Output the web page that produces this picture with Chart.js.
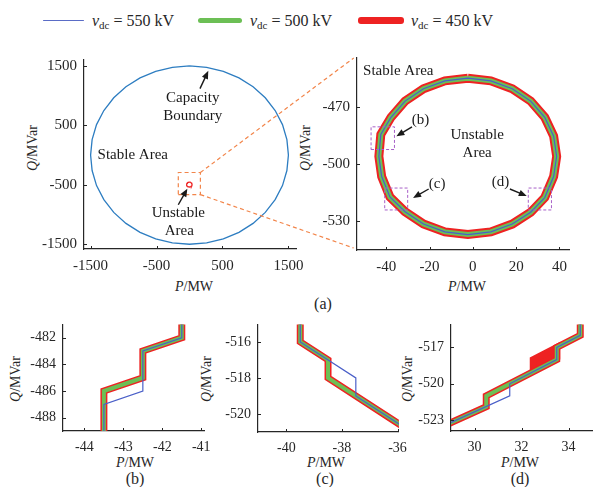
<!DOCTYPE html>
<html>
<head>
<meta charset="utf-8">
<script src="https://cdn.jsdelivr.net/npm/chart.js@4.4.0/dist/chart.umd.min.js"></script>
<style>
  body { margin: 0; background: #fff; }
  #page { position: relative; width: 602px; height: 487px; overflow: hidden; font-family: 'Liberation Serif', 'Times New Roman', serif; color: #262626; }
  #page canvas { position: absolute; }
  .lab { position: absolute; white-space: nowrap; font-size: 14px; line-height: 1; transform: translate(-50%, -50%); }
  .lab.rot { transform: translate(-50%, -50%) rotate(-90deg); }
  .cap { position: absolute; font-size: 16px; line-height: 1; transform: translate(-50%, -50%); }
  .key { position: absolute; border-radius: 3px; }
  .ktxt { position: absolute; font-size: 16px; line-height: 1; white-space: nowrap; transform: translateY(-50%); }
  .ktxt sub { font-size: 11px; vertical-align: -3px; line-height: 0; }
</style>
</head>
<body>
<div id="page">
  <div class="key" style="left:43px;top:19.5px;width:41px;height:1.3px;background:#5a6cc6"></div>
  <div class="ktxt" style="left:92px;top:21px"><i>v</i><sub>dc</sub> = 550 kV</div>
  <div class="key" style="left:198px;top:17.5px;width:44px;height:5px;background:#6cbf55"></div>
  <div class="ktxt" style="left:250px;top:21px"><i>v</i><sub>dc</sub> = 500 kV</div>
  <div class="key" style="left:358px;top:16.5px;width:46px;height:7px;background:#ee2222"></div>
  <div class="ktxt" style="left:411px;top:21px"><i>v</i><sub>dc</sub> = 450 kV</div>

  <div class="lab rot" style="left:33px;top:148px"><i>Q</i>/MVar</div>
  <div class="lab" style="left:194px;top:287px"><i>P</i>/MW</div>
  <div class="lab rot" style="left:306px;top:148px"><i>Q</i>/MVar</div>
  <div class="lab" style="left:467px;top:287px"><i>P</i>/MW</div>
  <div class="lab rot" style="left:16px;top:379px"><i>Q</i>/MVar</div>
  <div class="lab" style="left:135px;top:463px"><i>P</i>/MW</div>
  <div class="lab rot" style="left:207px;top:379px"><i>Q</i>/MVar</div>
  <div class="lab" style="left:326px;top:463px"><i>P</i>/MW</div>
  <div class="lab rot" style="left:408px;top:379px"><i>Q</i>/MVar</div>
  <div class="lab" style="left:520px;top:463px"><i>P</i>/MW</div>

  <div class="cap" style="left:323px;top:304px">(a)</div>
  <div class="cap" style="left:135px;top:479px">(b)</div>
  <div class="cap" style="left:325px;top:479px">(c)</div>
  <div class="cap" style="left:520px;top:479px">(d)</div>
</div>
<script>
// converter capacity boundary (radius 1500)
var capP = [0, 260, 513, 750, 964, 1149, 1299, 1410, 1477, 1500, 1477, 1410, 1299, 1149, 964, 750, 513, 260,
            0, -260, -513, -750, -964, -1149, -1299, -1410, -1477, -1500, -1477, -1410, -1299, -1149, -964, -750, -513, -260, 0];
var capQ = [1500, 1477, 1410, 1299, 1149, 964, 750, 513, 260, 0, -260, -513, -750, -964, -1149, -1299, -1410, -1477,
            -1500, -1477, -1410, -1299, -1149, -964, -750, -513, -260, 0, 260, 513, 750, 964, 1149, 1299, 1410, 1477, 1500];

// unstable region boundary (all three dc voltages overlap at this scale)
var ringP = [-2.3, 8.3, 18.2, 26.7, 33.2, 37.3, 38.7, 37.3, 33.2, 26.7, 18.2, 8.3, -2.3,
             -12.9, -22.8, -31.3, -38.3, -42.1, -43.4, -42.5, -37.8, -31.3, -22.8, -12.9, -2.3];
var ringQ = [-455, -456.4, -460.5, -467, -475.5, -485.4, -496, -506.6, -517.6, -525.3, -531.5, -535.6, -537,
             -535.6, -531.5, -525, -517.3, -506.6, -496, -484.5, -475.5, -467, -460.5, -456.4, -455];

// zoom window and detail windows
var zoomBoxP = [-170, 165], zoomBoxQ = [-665, -293];
var boxBP = [-47, -36.2], boxBQ = [-492.4, -480.5];
var boxCP = [-40.7, -30.1], boxCQ = [-524.1, -512.6];
var boxDP = [25.6, 36.3], boxDQ = [-524.1, -512.6];

// detail (b)
var bP550 = [-41.5, -41.5, -42.5, -42.5, -43.5, -43.5], bQ550 = [-480, -482, -483, -486, -487, -490];
var bP500 = [-41.5, -41.5, -42.5, -42.5, -43.5, -43.5], bQ500 = [-480, -482, -483, -485, -486, -490];
var bP450 = [-41.5, -41.5, -42.5, -42.5, -43.5, -43.5], bQ450 = [-480, -482, -483, -485, -486, -490];

// detail (c)
var cP550 = [-39.5, -39.5, -37.5, -37.5, -35.5], cQ550 = [-514, -516, -518, -519, -521];
var cP500 = [-39.5, -39.5, -38.5, -38.5, -35.5], cQ500 = [-514, -516, -517, -518, -521];
var cP450 = [-39.5, -39.5, -38.5, -38.5, -35.5], cQ450 = [-514, -516, -517, -518, -521];

// detail (d)
var dP550 = [28.5, 31.5, 31.5, 33.5, 33.5, 34.5, 34.5], dQ550 = [-523.64, -521, -520, -518, -517, -516, -514];
var dP500 = [28.5, 30.5, 30.5, 33.5, 33.5, 34.5, 34.5], dQ500 = [-523.64, -521.9, -521, -518, -517, -516, -514];
var dP450 = [28.5, 30.5, 30.5, 33.5, 33.5, 34.5, 34.5], dQ450 = [-523.64, -521.9, -521, -518, -517, -516, -514];
var dPatchP = [32.5, 32.5, 33.5, 33.5], dPatchQ = [-519, -518, -517, -518];

// tick labels
var ticksAP = [-1500, -500, 500, 1500], ticksAQ = [-1500, -500, 500, 1500];
var ticksZP = [-40, -20, 0, 20, 40], ticksZQ = [-530, -500, -470];
var ticksBP = [-44, -43, -42, -41], ticksBQ = [-488, -486, -484, -482];
var ticksCP = [-40, -38, -36], ticksCQ = [-520, -518, -516];
var ticksDP = [30, 32, 34], ticksDQ = [-523, -520, -517];

var BLUE = '#4a5fc8', GREEN = '#6cbf55', RED = '#ee2222', PURPLE = '#a860c8', ORANGE = '#f2854a';
var SERIF = "'Liberation Serif', 'Times New Roman', serif";

Chart.defaults.animation = false;
Chart.defaults.font.family = SERIF;
Chart.defaults.color = '#262626';

function pts(xs, ys) {
    var out = [];
    for (var i = 0; i < xs.length; i++) out.push({x: xs[i], y: ys[i]});
    return out;
}
function boxPts(p, q) {
    return pts([p[0], p[1], p[1], p[0], p[0]], [q[0], q[0], q[1], q[1], q[0]]);
}
// note: Chart.js paints the first dataset on top, so lists go top -> bottom
function line(data, color, width, extra) {
    var ds = {data: data, showLine: true, borderColor: color, backgroundColor: color,
              borderWidth: width, pointRadius: 0, fill: false, tension: 0, clip: 0};
    for (var k in extra) ds[k] = extra[k];
    return ds;
}

// small inward tick marks
var inTicks = {
    id: 'inTicks',
    afterDraw: function(chart) {
        var ctx = chart.ctx, a = chart.chartArea, xs = chart.scales.x, ys = chart.scales.y;
        ctx.save();
        ctx.strokeStyle = '#262626';
        ctx.lineWidth = 1;
        xs.ticks.forEach(function(t) {
            var px = Math.round(xs.getPixelForValue(t.value)) + 0.5;
            ctx.beginPath(); ctx.moveTo(px, a.bottom); ctx.lineTo(px, a.bottom - 3); ctx.stroke();
        });
        ys.ticks.forEach(function(t) {
            var py = Math.round(ys.getPixelForValue(t.value)) + 0.5;
            ctx.beginPath(); ctx.moveTo(a.left, py); ctx.lineTo(a.left + 3, py); ctx.stroke();
        });
        ctx.restore();
    }
};

// text and arrow annotations placed in data coordinates
var notes = {
    id: 'notes',
    afterDatasetsDraw: function(chart, args, opts) {
        var ctx = chart.ctx, xs = chart.scales.x, ys = chart.scales.y;
        ctx.save();
        ctx.fillStyle = '#1a1a1a';
        ctx.strokeStyle = '#1a1a1a';
        (opts.arrows || []).forEach(function(a) {
            var x0 = xs.getPixelForValue(a[0]), y0 = ys.getPixelForValue(a[1]);
            var x1 = xs.getPixelForValue(a[2]), y1 = ys.getPixelForValue(a[3]);
            var ang = Math.atan2(y1 - y0, x1 - x0), L = 8, W = 3.3;
            var c = Math.cos(ang), s = Math.sin(ang);
            ctx.lineWidth = 1.4;
            ctx.beginPath(); ctx.moveTo(x0, y0); ctx.lineTo(x1 - c * L * 0.7, y1 - s * L * 0.7); ctx.stroke();
            ctx.beginPath();
            ctx.moveTo(x1, y1);
            ctx.lineTo(x1 - L * c + W * s, y1 - L * s - W * c);
            ctx.lineTo(x1 - L * c - W * s, y1 - L * s + W * c);
            ctx.closePath(); ctx.fill();
        });
        ctx.font = (opts.size || 15) + 'px ' + SERIF;
        ctx.textBaseline = 'middle';
        (opts.texts || []).forEach(function(t) {
            ctx.textAlign = t[3] || 'center';
            ctx.fillText(t[0], xs.getPixelForValue(t[1]), ys.getPixelForValue(t[2]));
        });
        ctx.restore();
    }
};

var page = document.getElementById('page');

// area = plot box in page pixels, the canvas gets margins around it for tick labels
function makePanel(area, xr, yr, xt, yt, fsize, datasets, noteOpts) {
    var ml = 50, mt = 10, mr = 16, mb = 30;
    var cv = document.createElement('canvas');
    var w = Math.round(area.r - area.l + ml + mr), h = Math.round(area.b - area.t + mt + mb);
    cv.width = w; cv.height = h;
    cv.style.left = (area.l - ml) + 'px';
    cv.style.top = (area.t - mt) + 'px';
    cv.style.width = w + 'px'; cv.style.height = h + 'px';
    page.appendChild(cv);
    var axis = function(range, ticks, fit, pad) {
        return {
            type: 'linear', min: range[0], max: range[1],
            grid: {display: true, drawOnChartArea: false, drawTicks: false},
            border: {display: true, color: '#262626', width: 1.2},
            afterBuildTicks: function(s) { s.ticks = ticks.map(function(v) { return {value: v}; }); },
            afterFit: fit,
            ticks: {font: {family: SERIF, size: fsize}, color: '#262626', padding: pad, maxRotation: 0,
                    callback: function(v) { return String(v); }}
        };
    };
    var chart = new Chart(cv, {
        type: 'scatter',
        data: {datasets: datasets},
        options: {
            responsive: false, events: [],
            layout: {padding: {left: 0, top: mt, right: mr, bottom: 0}},
            scales: {
                x: axis(xr, xt, function(s) { s.height = mb; }, 8),
                y: axis(yr, yt, function(s) { s.width = ml; }, 7)
            },
            plugins: {legend: {display: false}, tooltip: {enabled: false}, notes: noteOpts || {}}
        },
        plugins: [inTicks, notes]
    });
    chart.$left = area.l - ml;
    chart.$top = area.t - mt;
    return chart;
}

var dash = {borderDash: [4, 3]};
var pdash = {borderDash: [3, 2]};

// (a) left: full capability plane
var chartA = makePanel({l: 84, t: 54, r: 296, b: 249}, [-1600, 1615], [-1580, 1600], ticksAP, ticksAQ, 15, [
    line(boxPts(zoomBoxP, zoomBoxQ), ORANGE, 1.2, dash),
    line(pts(ringP, ringQ), RED, 1.3),
    line(pts(capP, capQ), '#2d7dc1', 1.3)
], {
    size: 15,
    texts: [['Capacity', 49, 957], ['Boundary', 49, 657], ['Stable Area', -1394, -5, 'left'],
            ['Unstable', -170, -983], ['Area', -155, -1283]],
    arrows: [[159, 1118, 285, 1418], [-170, -836, -33, -566]]
});

// (a) right: zoom on the unstable region
var chartZ = makePanel({l: 356.7, t: 52, r: 568.3, b: 250}, [-53.5, 44.4], [-545.1, -444.4], ticksZP, ticksZQ, 15, [
    line(boxPts(boxBP, boxBQ), PURPLE, 1, pdash),
    line(boxPts(boxCP, boxCQ), PURPLE, 1, pdash),
    line(boxPts(boxDP, boxDQ), PURPLE, 1, pdash),
    line(pts(ringP, ringQ), BLUE, 1.2),
    line(pts(ringP, ringQ), GREEN, 5),
    line(pts(ringP, ringQ), RED, 9)
], {
    size: 15,
    texts: [['Stable Area', -50.7, -451.2, 'left'], ['Unstable', 2, -484.6], ['Area', 2, -494],
            ['(b)', -24.2, -477.1], ['(c)', -16.5, -510.5], ['(d)', 12.8, -509.7]],
    arrows: [[-28.1, -480.5, -35.3, -485.5], [-20.4, -513.1, -27.6, -517.8], [17.1, -513.1, 24.9, -516.8]]
});

// (b), (c), (d) details
makePanel({l: 63.3, t: 319.3, r: 204.3, b: 431.7}, [-44.55, -40.93], [-489, -481], ticksBP, ticksBQ, 14, [
    line(pts(bP550, bQ550), BLUE, 1.2),
    line(pts(bP500, bQ500), GREEN, 4),
    line(pts(bP450, bQ450), RED, 7)
]);
makePanel({l: 257.7, t: 319.3, r: 399, b: 432.3}, [-41.02, -35.95], [-521, -515.03], ticksCP, ticksCQ, 14, [
    line(pts(cP550, cQ550), BLUE, 1.2),
    line(pts(cP500, cQ500), GREEN, 4),
    line(pts(cP450, cQ450), RED, 7)
]);
makePanel({l: 451, t: 319.3, r: 592.3, b: 431.7}, [29, 35], [-523.9, -515.1], ticksDP, ticksDQ, 14, [
    line(pts(dP550, dQ550), BLUE, 1.2),
    line(pts(dP500, dQ500), GREEN, 4),
    line(pts(dP450, dQ450), RED, 7),
    line(pts(dPatchP, dPatchQ), RED, 7, {fill: 'shape'})
]);

// dashed connectors from the zoom window to the enlarged axes
var ov = document.createElement('canvas');
ov.width = 602; ov.height = 487;
ov.style.left = '0px'; ov.style.top = '0px';
page.appendChild(ov);
var g = ov.getContext('2d');
var sx = chartA.scales.x, sy = chartA.scales.y, za = chartZ.chartArea;
g.strokeStyle = ORANGE;
g.lineWidth = 1.2;
g.setLineDash([4, 3]);
g.beginPath();
g.moveTo(chartA.$left + sx.getPixelForValue(zoomBoxP[1]), chartA.$top + sy.getPixelForValue(zoomBoxQ[1]));
g.lineTo(chartZ.$left + za.left - 3, chartZ.$top + za.top);
g.moveTo(chartA.$left + sx.getPixelForValue(zoomBoxP[1]), chartA.$top + sy.getPixelForValue(zoomBoxQ[0]));
g.lineTo(chartZ.$left + za.left - 3, chartZ.$top + za.bottom - 2);
g.stroke();
</script>
</body>
</html>
